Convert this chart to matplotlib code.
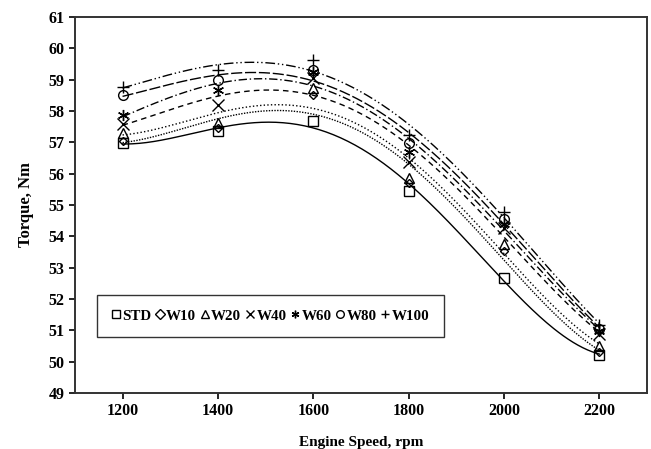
import numpy as np
import matplotlib
matplotlib.use("Agg")
import matplotlib.pyplot as plt

speed = [1200, 1400, 1600, 1800, 2000, 2200]
std  = [56.97, 57.35, 57.68, 55.46, 52.68, 50.22]
w10  = [57.05, 57.45, 58.50, 55.70, 53.54, 50.30]
w20  = [57.30, 57.62, 58.73, 55.85, 53.77, 50.50]
w40  = [57.60, 58.20, 59.05, 56.36, 54.25, 50.88]
w60  = [57.86, 58.66, 59.24, 56.68, 54.40, 50.98]
w80  = [58.50, 58.98, 59.30, 56.97, 54.55, 51.05]
w100 = [58.77, 59.30, 59.62, 57.22, 54.77, 51.18]
labels = ["STD", "W10", "W20", "W40", "W60", "W80", "W100"]
series = [std, w10, w20, w40, w60, w80, w100]

markers = ["s", "D", "^", "x", (6, 2, 0), "o", "+"]
msizes = [7, 4.5, 7, 8, 8, 7, 9]
styles = ["-", (0, (1, 1)), (0, (1, 1.6)), (0, (4, 3)), (0, (6, 2, 1, 2)),
          (0, (8, 2)), (0, (7, 2, 1, 2, 1, 2))]

plt.rcParams['font.family'] = ['Liberation Serif', 'DejaVu Serif']
plt.rcParams['font.weight'] = 'bold'

fig = plt.figure(figsize=(6.51, 4.49), dpi=100)
ax = fig.add_axes([0.115, 0.1247, 0.879, 0.8375])

xs = np.linspace(1200, 2200, 200)
handles = []
for y, lab, m, ms, ls in zip(series, labels, markers, msizes, styles):
    coef = np.polyfit(speed, y, 4)
    ax.plot(xs, np.polyval(coef, xs), color="black", lw=1.0, linestyle=ls)
    h, = ax.plot(speed, y, linestyle="none", marker=m, markersize=ms,
                 markerfacecolor="none", markeredgecolor="black",
                 markeredgewidth=1.0, label=lab)
    handles.append(h)

ax.set_xlim(1100, 2300)
ax.set_ylim(49, 61)
ax.set_xticks(speed)
ax.set_yticks(range(49, 62))
ax.tick_params(axis="both", direction="out", length=4, width=1.2,
               labelsize=11.5, top=False, right=False)
for lbl in ax.get_xticklabels() + ax.get_yticklabels():
    lbl.set_fontweight("bold")
for s in ax.spines.values():
    s.set_linewidth(1.4)
    s.set_color("#333333")

ax.set_xlabel("Engine Speed, rpm", fontsize=11, fontweight="bold", labelpad=12)
ax.set_ylabel("Torque, Nm", fontsize=12, fontweight="bold", labelpad=10)

leg = ax.legend(handles=handles, ncol=7, loc="lower left",
                bbox_to_anchor=(0.0385, 0.149),
                frameon=True, fancybox=False,
                handlelength=0.6, handletextpad=0.12, columnspacing=0.28,
                borderpad=0.95, borderaxespad=0.0,
                prop={"weight": "bold", "size": 10.8})
leg.get_frame().set_edgecolor("black")
leg.get_frame().set_linewidth(1.0)
for h in leg.legend_handles:
    h.set_markersize(5.5)

fig.savefig("out.png", dpi=100)
